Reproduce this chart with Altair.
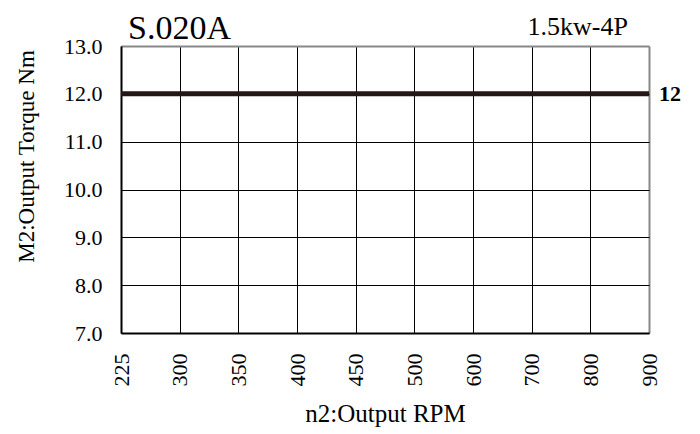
import altair as alt
import pandas as pd

rpm_labels = ["225", "300", "350", "400", "450", "500", "600", "700", "800", "900"]
torque = [12, 12, 12, 12, 12, 12, 12, 12, 12, 12]
y_ticks = [7, 8, 9, 10, 11, 12, 13]
end_label = "12"
model_title = "S.020A"
motor_text = "1.5kw-4P"
x_title = "n2:Output RPM"
y_title = "M2:Output Torque Nm"

FONT = "Liberation Serif"
LINE_COLOR = "#231815"

df = pd.DataFrame({"rpm": rpm_labels, "torque": torque})
df_end = pd.DataFrame({"rpm": [rpm_labels[-1]], "torque": [torque[-1]], "label": [end_label]})

x_enc = alt.X(
    "rpm:N",
    sort=rpm_labels,
    scale=alt.Scale(type="point", padding=0),
    axis=alt.Axis(
        title=x_title,
        labelAngle=270,
        labelFont=FONT,
        labelFontSize=22,
        labelColor="#000",
        labelPadding=20,
        ticks=False,
        domainColor="#000",
        domainWidth=2,
        grid=True,
        gridColor={"condition": {"test": "datum.value === '900'", "value": "#888888"}, "value": "#000000"},
        gridWidth={"condition": {"test": "datum.value === '900'", "value": 2}, "value": 1},
        gridOpacity=1,
        titleFont=FONT,
        titleFontSize=25,
        titleFontWeight="normal",
        titleColor="#000",
        titleBaseline="alphabetic",
        titleY=88,
    ),
)

y_enc = alt.Y(
    "torque:Q",
    scale=alt.Scale(domain=[7, 13], nice=False, zero=False),
    axis=alt.Axis(
        title=y_title,
        values=y_ticks,
        format=".1f",
        labelFont=FONT,
        labelFontSize=22,
        labelColor="#000",
        labelPadding=19,
        ticks=False,
        domainColor="#000",
        domainWidth=2,
        grid=True,
        gridColor={"condition": {"test": "datum.value === 13", "value": "#888888"}, "value": "#000000"},
        gridWidth={"condition": {"test": "datum.value === 13", "value": 2}, "value": 1},
        gridOpacity=1,
        titleFont=FONT,
        titleFontSize=23,
        titleFontWeight="normal",
        titleColor="#000",
        titleAngle=270,
        titleAlign="center",
        titleBaseline="alphabetic",
        titleX=-88,
        titleY=110,
    ),
)

line = alt.Chart(df).mark_line(color=LINE_COLOR, strokeWidth=5).encode(x=x_enc, y=y_enc)

end_text = alt.Chart(df_end).mark_text(
    align="left", baseline="middle", dx=10, font=FONT, fontSize=22, fontWeight="bold", color="#000"
).encode(x=alt.X("rpm:N", sort=rpm_labels), y="torque:Q", text="label:N")

title_text = alt.Chart(pd.DataFrame({"t": [model_title]})).mark_text(
    align="left", baseline="alphabetic", font=FONT, fontSize=34, color="#000"
).encode(x=alt.value(7), y=alt.value(-7), text="t:N")

motor = alt.Chart(pd.DataFrame({"t": [motor_text]})).mark_text(
    align="right", baseline="alphabetic", font=FONT, fontSize=26, color="#000"
).encode(x=alt.value(507), y=alt.value(-11), text="t:N")

chart = (
    alt.layer(line, end_text, title_text, motor)
    .properties(
        width=528,
        height=287,
        autosize=alt.AutoSizeParams(type="none"),
        padding={"left": 113, "top": 38, "right": 43, "bottom": 95},
    )
    .configure_view(stroke=None)
    .configure(background="white")
)

chart.save("out.html", embed_options={"renderer": "svg", "actions": False})
